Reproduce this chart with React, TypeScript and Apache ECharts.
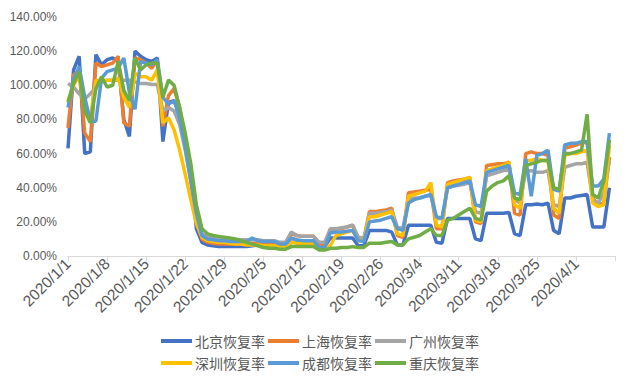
import React, { useEffect, useRef } from "react";
import * as echarts from "echarts";

const seriesNames = ["北京恢复率", "上海恢复率", "广州恢复率", "深圳恢复率", "成都恢复率", "重庆恢复率"];
const colors = ["#4472C4", "#ED7D31", "#A5A5A5", "#FFC000", "#5B9BD5", "#70AD47"];

const beijing = [
  63, 109, 117, 60, 61, 118, 112, 115, 116, 114, 80, 70, 120, 117, 115, 114, 116, 67, 90, 91,
  85, 66, 52, 16, 8, 6.5, 6, 5.5, 5.5, 5.5, 5.5, 5.5, 5.5, 6, 6.5, 6.5, 6.5, 6.5, 5.5, 5.5,
  8, 8, 8, 8, 8, 5.5, 5.5, 10.5, 10.5, 10.5, 10.5, 10.5, 6, 6, 15, 15, 15, 15, 14, 6.5,
  6.5, 18, 18, 18, 18, 18, 8, 7.5, 22, 22, 22, 22, 22, 10, 9, 25, 25, 25, 25, 25.5,
  13, 12, 30, 30, 30.5, 30, 31, 15, 13, 34, 34, 35, 35.5, 36, 17, 17, 17, 40,
];
const shanghai = [
  75, 106, 109, 72, 67, 113, 111, 112, 113, 117, 78, 76, 116, 115, 113, 110, 115, 76, 94, 98,
  87, 68, 46, 22, 10, 8, 7.5, 7, 7, 7, 7, 7, 7, 7.5, 7.5, 7, 7, 7, 6, 6,
  13, 12, 11.5, 11.5, 11.5, 7, 7, 15, 16, 16, 17, 18, 10, 9, 26, 26, 26.5, 27, 28, 12,
  11, 37, 37.5, 38, 38.5, 39, 16, 16, 43, 44, 44.5, 45, 46, 20, 19, 53, 53.5, 54, 54, 55,
  25, 24, 60, 61, 60, 60, 59, 24, 22, 63, 64, 65, 66, 67, 34, 30, 31, 58,
];
const guangzhou = [
  101, 99, 95, 92, 95, 99, 102, 103, 103, 103, 103, 103, 102, 101, 101, 100.5, 100.5, 85, 87, 85,
  77, 62, 44, 25, 13, 11, 10.5, 10, 10, 10, 9.5, 9.5, 9.5, 9.5, 9.5, 9, 9, 9, 8, 8,
  14, 12, 11.5, 11.5, 11.5, 8, 8, 16, 16, 16.5, 17, 18, 11, 10.5, 25, 25, 25.5, 26, 27, 17,
  16, 33, 34, 34, 35, 35.5, 22, 22, 40, 41, 41.5, 42, 43, 26, 25, 47, 48, 49, 50, 51,
  33, 31, 50, 50, 49, 49, 50, 30, 29, 52, 53, 54, 54, 55, 33, 31, 37, 56,
];
const shenzhen = [
  91, 100, 106, 87, 81, 103, 102, 103, 103, 104, 93, 87, 107, 105, 105, 103, 109, 78, 81, 74,
  62, 48, 33, 19, 11, 9, 8.5, 8, 8, 7.5, 7, 7, 6.5, 6.5, 6.5, 6, 6, 6, 5, 5,
  8, 7.5, 7.5, 7.5, 7.5, 5, 5, 6, 12, 13, 14, 15, 9, 9, 23, 23, 24, 25, 26, 13,
  12, 35, 36, 37, 38, 43, 18, 17, 42, 43, 44, 45, 46, 21, 20, 50, 51, 52, 53, 55,
  30, 28, 56, 56, 57, 56, 56, 28, 25, 59, 60, 60, 61, 62, 31, 29, 30, 65,
];
const chengdu = [
  87, 103, 111, 93, 79, 79, 104, 108, 109, 110, 116, 96, 86, 114, 113, 112, 115, 93, 89, 91,
  81, 64, 44, 25, 12, 10, 9.5, 9, 9, 8.5, 8.5, 8.5, 8.5, 10.5, 9, 8.5, 8.5, 8.5, 7, 7,
  10.5, 9.5, 9, 9, 9, 5, 5, 13.5, 14, 14, 14.5, 15, 9, 8.5, 20, 20.5, 21, 22, 23, 16,
  15, 31, 33, 34, 35, 36, 23, 22, 40, 41, 42, 43, 44, 30, 29, 49, 50, 51, 52, 53,
  37, 36, 57, 35, 59, 60, 62, 39, 38, 65, 66, 66, 67, 67, 41, 41, 45, 72,
];
const chongqing = [
  90, 101, 108, 85, 78, 98, 105, 99, 100, 114, 97, 91, 116, 109, 112, 113, 113, 93, 103, 100,
  87, 72, 54, 30, 16, 13, 12, 11.5, 11, 10.5, 10, 9, 8, 7, 6, 5, 4.5, 4.5, 4, 4,
  5.5, 5.5, 5.5, 5.5, 5.5, 3.5, 3.5, 4.5, 4.5, 5, 5, 5.5, 5, 5, 7.5, 7.5, 7.5, 8, 8.5, 6.5,
  6.5, 10, 11, 12, 14, 16, 12, 12, 21, 22, 24, 26, 28, 22, 21, 38, 41, 43, 44, 47,
  34, 33, 53, 54, 55, 56, 56, 40, 39, 60, 60, 61, 62, 83, 36, 34, 44, 68,
];
const yTicks = [0, 20, 40, 60, 80, 100, 120, 140];

const seriesData = [beijing, shanghai, guangzhou, shenzhen, chengdu, chongqing];

function buildDates(): string[] {
  const out: string[] = [];
  const d = new Date(2020, 0, 1);
  for (let i = 0; i < 99; i++) {
    out.push(`${d.getFullYear()}/${d.getMonth() + 1}/${d.getDate()}`);
    d.setDate(d.getDate() + 1);
  }
  return out;
}
const dates = buildDates();

const CJK = "'Noto Sans CJK SC', 'Noto Sans', sans-serif";
const NUM = "'Liberation Sans', Arial, sans-serif";

export default function App() {
  const ref = useRef<HTMLDivElement>(null);
  useEffect(() => {
    if (!ref.current) return;
    const chart = echarts.init(ref.current, null, { renderer: "svg" });
    const legendItem = (names: string[], top: number) => ({
      data: names,
      top,
      left: "center",
      itemWidth: 31,
      itemHeight: 4,
      itemGap: 3,
      icon: "rect",
      textStyle: { fontSize: 14, color: "#595959", fontFamily: CJK, padding: [0, 0, 0, -2] },
    });
    chart.setOption({
      animation: false,
      color: colors,
      textStyle: { fontFamily: CJK },
      grid: { left: 68, right: 25, top: 17, bottom: 126, containLabel: false },
      legend: [legendItem(seriesNames.slice(0, 3), 329), legendItem(seriesNames.slice(3), 351)],
      xAxis: {
        type: "category",
        data: dates,
        boundaryGap: false,
        axisLine: { lineStyle: { color: "#D9D9D9", width: 1 } },
        axisTick: {
          show: true,
          interval: (i: number) => i % 7 === 0,
          length: 5,
          lineStyle: { color: "#D9D9D9" },
        },
        axisLabel: {
          interval: (i: number) => i % 7 === 0 && i < 98,
          rotate: 45,
          fontSize: 15.5,
          color: "#595959",
          fontFamily: NUM,
          margin: 5,
          hideOverlap: false,
        },
        splitLine: { show: false },
      },
      yAxis: {
        type: "value",
        min: yTicks[0],
        max: yTicks[yTicks.length - 1],
        interval: 20,
        axisLine: { show: false },
        axisTick: { show: false },
        splitLine: { show: false },
        axisLabel: {
          formatter: (v: number) => `${v.toFixed(2)}%`,
          fontSize: 12,
          color: "#595959",
          fontFamily: NUM,
          margin: 11,
        },
      },
      series: seriesData.map((data, i) => ({
        name: seriesNames[i],
        type: "line",
        data,
        showSymbol: false,
        symbol: "none",
        lineStyle: { width: 3.5, color: colors[i] },
        itemStyle: { color: colors[i] },
      })),
    });
    return () => chart.dispose();
  }, []);
  return <div ref={ref} style={{ width: 640, height: 382, margin: -8 }} />;
}
